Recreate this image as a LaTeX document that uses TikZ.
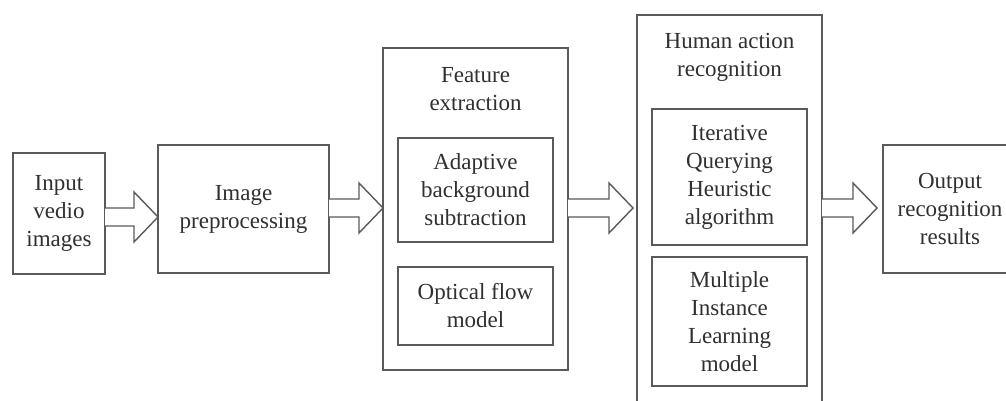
\documentclass[tikz,border=0pt]{standalone}
\usepackage{fontspec}
\setmainfont{Liberation Serif}
\usetikzlibrary{calc}
\definecolor{lc}{HTML}{5A5A5A}
\definecolor{tc}{HTML}{303030}
\tikzset{
  box/.style={draw=lc, line width=1.4pt, outer sep=0pt, inner sep=0pt, align=center,
    text=tc, font=\fontsize{23}{28}\selectfont},
  lbl/.style={inner sep=0pt, align=center, text=tc, font=\fontsize{23}{28}\selectfont},
  blkarrow/.style={draw=lc, line width=1.4pt, fill=white, line join=miter}
}
\newcommand\blk[2]{\draw[blkarrow] ($(#1)+(0,9)$) -- ($(#2)+(-24,9)$) -- ($(#2)+(-24,25)$) -- (#2) -- ($(#2)+(-24,-25)$) -- ($(#2)+(-24,-9)$) -- ($(#1)+(0,-9)$);}
\begin{document}
\begin{tikzpicture}[x=1pt,y=1pt]
\useasboundingbox (0,0) rectangle (1006,400);
\clip (0,0) rectangle (1006,400);
\fill[white] (0,0) rectangle (1006,400);
% outer boxes
\node[box, minimum width=92pt, minimum height=121pt] (b1) at (59,186.5) {Input\\vedio\\images};
\node[box, minimum width=171pt, minimum height=128pt] (b2) at (243.5,191) {Image\\preprocessing};
\node[box, minimum width=185pt, minimum height=322pt] (b3) at (475.5,191) {};
\node[lbl] (t3) at (475.5,311) {Feature\\extraction};
\node[box, minimum width=155pt, minimum height=104pt] (f1) at (475.5,210) {Adaptive\\background\\subtraction};
\node[box, minimum width=155pt, minimum height=78pt] (f2) at (475.5,94) {Optical flow\\model};
\node[box, minimum width=185pt, minimum height=400pt] (b4) at (729.5,185) {};
\node[lbl] (t4) at (729.5,342.5) {Human action\\recognition};
\node[box, minimum width=155pt, minimum height=136pt] (h1) at (729.5,223) {Iterative\\Querying\\Heuristic\\algorithm};
\node[box, minimum width=155pt, minimum height=129pt] (h2) at (729.5,78.5) {Multiple\\Instance\\Learning\\model};
\node[box, minimum width=134pt, minimum height=128pt] (b5) at (950,191) {Output\\recognition\\results};
% arrow end points
\coordinate (a1s) at (b1.east |- 0,183);
\coordinate (a1e) at (b2.west |- 0,183);
\coordinate (a2s) at (b2.east |- 0,192);
\coordinate (a2e) at (b3.west |- 0,192);
\coordinate (a3s) at (b3.east |- 0,192);
\coordinate (a3e) at ($(b4.west |- 0,192)+(-4,0)$);
\coordinate (a4s) at (b4.east |- 0,192);
\coordinate (a4e) at ($(b5.west |- 0,192)+(-6,0)$);
\blk{a1s}{a1e}
\blk{a2s}{a2e}
\blk{a3s}{a3e}
\blk{a4s}{a4e}
\end{tikzpicture}
\end{document}
